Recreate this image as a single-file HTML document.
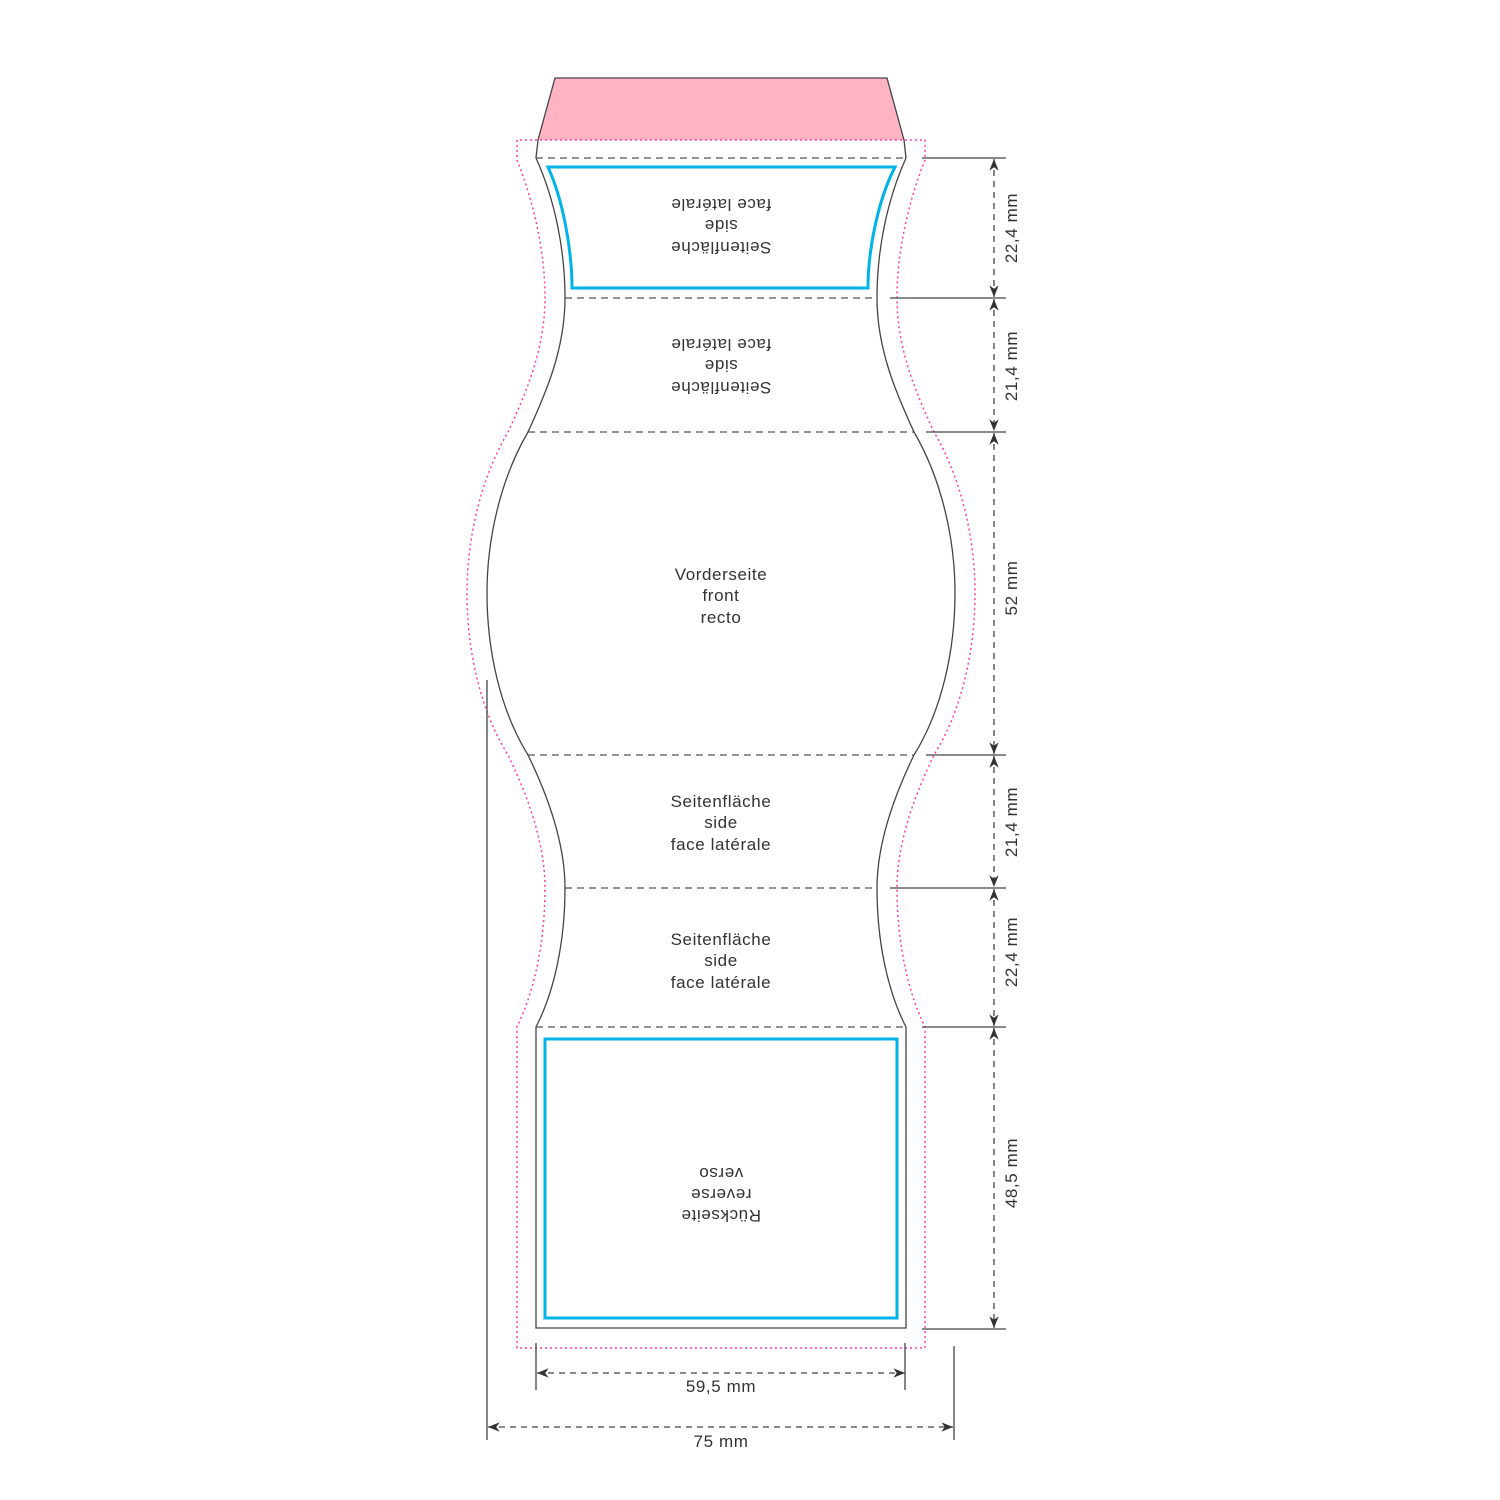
<!DOCTYPE html>
<html><head><meta charset="utf-8"><style>
html,body{margin:0;padding:0;background:#fff;}
svg{display:block}
text{font-family:"Liberation Sans",sans-serif;font-size:17px;letter-spacing:0.6px;fill:#333;}
</style></head><body>
<svg width="1500" height="1500" viewBox="0 0 1500 1500" xmlns="http://www.w3.org/2000/svg">
<defs>
<marker id="a" viewBox="0 0 10 10" refX="10" refY="5" markerWidth="9" markerHeight="9" orient="auto-start-reverse"><path d="M0,1 L10,5 L0,9 L3,5 Z" fill="#333"/></marker>
</defs>
<polygon points="555,78 887,78 904,140 538,140" fill="#ffb3c3"/>
<polyline points="538,140 555,78 887,78 904,140" fill="none" stroke="#444" stroke-width="1.3"/>
<line x1="538" y1="140" x2="536" y2="158" stroke="#444" stroke-width="1.3"/>
<line x1="904" y1="140" x2="906" y2="158" stroke="#444" stroke-width="1.3"/>
<path d="M536,158 C555,200 565,250 565,298 C565,350 545,395 528,432 C500,480 487,540 487,593 C487,650 500,710 528,755 C545,790 565,840 565,888 C565,940 555,990 536,1027 L536,1328 L906,1328 L906,1027 C887,990 877,940 877,888 C877,840 897,790 914,755 C942,710 955,650 955,593 C955,540 942,480 914,432 C897,395 877,350 877,298 C877,250 887,200 906,158" fill="none" stroke="#444" stroke-width="1.3"/>
<path d="M517,140 L517,160 C535,205 545,255 545,298 C545,350 525,395 508,432 C480,480 467,540 467,593 C467,650 480,710 508,755 C525,790 545,840 545,888 C545,940 535,990 517,1027 L517,1348 L925,1348 L925,1027 C907,990 897,940 897,888 C897,840 917,790 934,755 C962,710 975,650 975,593 C975,540 962,480 934,432 C917,395 897,350 897,298 C897,255 907,205 925,160 L925,140 Z" fill="none" stroke="#ff3ea5" stroke-width="1.5" stroke-dasharray="2,3"/>
<g stroke="#555" stroke-width="1.3" stroke-dasharray="7,5">
<line x1="536" y1="158" x2="906" y2="158"/>
<line x1="565" y1="298" x2="877" y2="298"/>
<line x1="528" y1="432" x2="914" y2="432"/>
<line x1="528" y1="755" x2="914" y2="755"/>
<line x1="565" y1="888" x2="877" y2="888"/>
<line x1="536" y1="1027" x2="906" y2="1027"/>
</g>
<path d="M548,167 L895,167 C878,200 868,250 868,288 L572,288 C572,250 563,200 548,167 Z" fill="none" stroke="#00b4ea" stroke-width="3"/>
<rect x="545" y="1039" width="352" height="279" fill="none" stroke="#00b4ea" stroke-width="3"/>
<g stroke="#444" stroke-width="1.3">
<line x1="922" y1="158" x2="1006" y2="158"/>
<line x1="890" y1="298" x2="1006" y2="298"/>
<line x1="926" y1="432" x2="1006" y2="432"/>
<line x1="926" y1="755" x2="1006" y2="755"/>
<line x1="890" y1="888" x2="1006" y2="888"/>
<line x1="922" y1="1027" x2="1006" y2="1027"/>
<line x1="922" y1="1329" x2="1006" y2="1329"/>
</g>
<g stroke="#444" stroke-width="1.3" stroke-dasharray="6,5" marker-start="url(#a)" marker-end="url(#a)">
<line x1="994" y1="159" x2="994" y2="297"/>
<line x1="994" y1="299" x2="994" y2="431"/>
<line x1="994" y1="433" x2="994" y2="754"/>
<line x1="994" y1="756" x2="994" y2="887"/>
<line x1="994" y1="889" x2="994" y2="1026"/>
<line x1="994" y1="1028" x2="994" y2="1328"/>
<line x1="537" y1="1373" x2="905" y2="1373"/>
<line x1="488" y1="1427" x2="953" y2="1427"/>
</g>
<g>
<text transform="translate(1017,228) rotate(-90)" text-anchor="middle">22,4 mm</text>
<text transform="translate(1017,366) rotate(-90)" text-anchor="middle">21,4 mm</text>
<text transform="translate(1017,588) rotate(-90)" text-anchor="middle">52 mm</text>
<text transform="translate(1017,822) rotate(-90)" text-anchor="middle">21,4 mm</text>
<text transform="translate(1017,952) rotate(-90)" text-anchor="middle">22,4 mm</text>
<text transform="translate(1017,1173) rotate(-90)" text-anchor="middle">48,5 mm</text>
</g>
<g stroke="#444" stroke-width="1.3">
<line x1="536" y1="1343" x2="536" y2="1390"/>
<line x1="905" y1="1343" x2="905" y2="1390"/>
<line x1="487" y1="680" x2="487" y2="1440"/>
<line x1="954" y1="1346" x2="954" y2="1440"/>
</g>
<text x="721" y="1392" text-anchor="middle">59,5 mm</text>
<text x="721" y="1447" text-anchor="middle">75 mm</text>
<g text-anchor="middle">
<g transform="rotate(180 721 226)">
<text x="721" y="210">Seitenfläche</text><text x="721" y="232">side</text><text x="721" y="253">face latérale</text>
</g>
<g transform="rotate(180 721 366)">
<text x="721" y="350">Seitenfläche</text><text x="721" y="372">side</text><text x="721" y="393">face latérale</text>
</g>
<text x="721" y="580">Vorderseite</text><text x="721" y="601">front</text><text x="721" y="623">recto</text>
<text x="721" y="807">Seitenfläche</text><text x="721" y="828">side</text><text x="721" y="850">face latérale</text>
<text x="721" y="945">Seitenfläche</text><text x="721" y="966">side</text><text x="721" y="988">face latérale</text>
<g transform="rotate(180 721 1195)">
<text x="721" y="1180">Rückseite</text><text x="721" y="1201">reverse</text><text x="721" y="1222">verso</text>
</g>
</g>
</svg>
</body></html>
